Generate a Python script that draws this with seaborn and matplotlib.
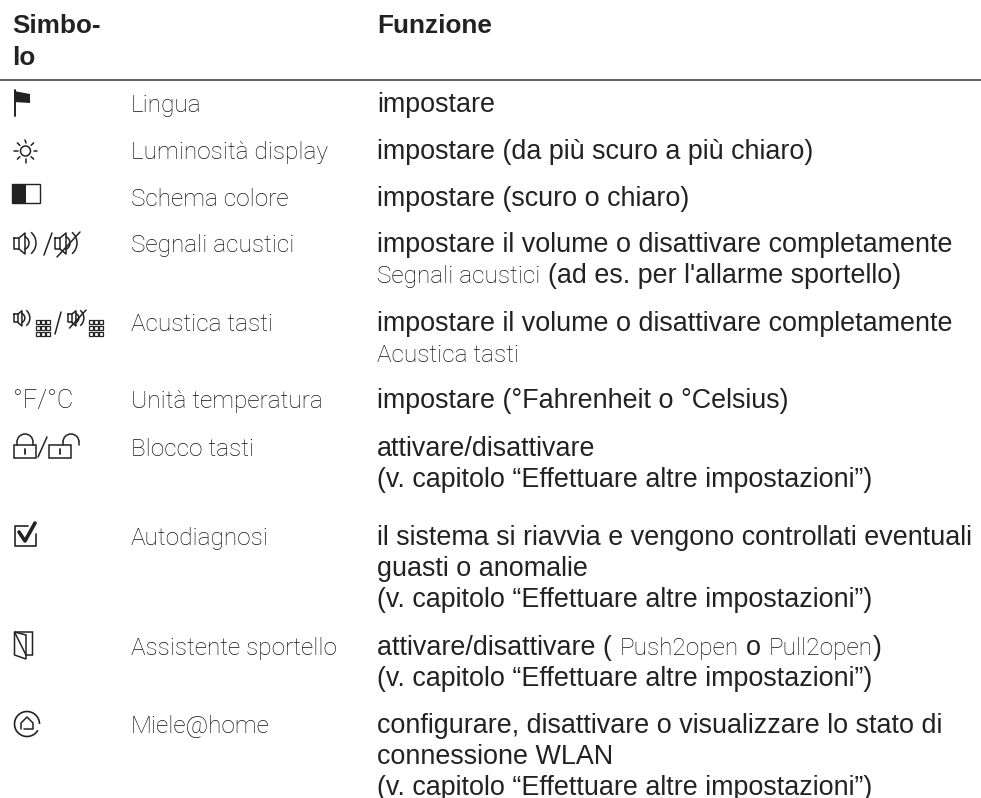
import numpy as np
import seaborn as sns
import matplotlib
matplotlib.use("Agg")
import matplotlib.pyplot as plt
from matplotlib.patches import Arc, Circle, Polygon, Rectangle

# table content
header_symbol = ["Simbo-", "lo"]
header_function = "Funzione"
names = ["Lingua", "Luminosità display", "Schema colore", "Segnali acustici",
         "Acustica tasti", "Unità temperatura", "Blocco tasti", "Autodiagnosi",
         "Assistente sportello", "Miele@home"]
# each line is a list of (text, is_menu_text) parts
functions = [
    [[("impostare", 0)]],
    [[("impostare (da più scuro a più chiaro)", 0)]],
    [[("impostare (scuro o chiaro)", 0)]],
    [[("impostare il volume o disattivare completamente", 0)],
     [("Segnali acustici", 1), ("(ad es. per l'allarme sportello)", 0)]],
    [[("impostare il volume o disattivare completamente", 0)],
     [("Acustica tasti", 1)]],
    [[("impostare (°Fahrenheit o °Celsius)", 0)]],
    [[("attivare/disattivare", 0)],
     [("(v. capitolo “Effettuare altre impostazioni”)", 0)]],
    [[("il sistema si riavvia e vengono controllati eventuali", 0)],
     [("guasti o anomalie", 0)],
     [("(v. capitolo “Effettuare altre impostazioni”)", 0)]],
    [[("attivare/disattivare (", 0), ("Push2open", 1), ("o", 0), ("Pull2open", 1), (")", 0)],
     [("(v. capitolo “Effettuare altre impostazioni”)", 0)]],
    [[("configurare, disattivare o visualizzare lo stato di", 0)],
     [("connessione WLAN", 0)],
     [("(v. capitolo “Effettuare altre impostazioni”)", 0)]],
]

# layout in pixels
row_y = [112, 159, 206, 252, 331, 408, 456, 545, 655, 733]
line_h = 31
name_x = 131
func_x = 377
ink = "#222222"
light = "#111111"

sns.set_theme(style="white")
plt.rcParams["font.family"] = ["Liberation Sans", "DejaVu Sans"]

fig = plt.figure(figsize=(9.81, 7.98), dpi=100)
ax = fig.add_axes([0, 0, 1, 1])

# rule under the header
sns.lineplot(x=[0, 981], y=[80, 80], color="#333333", linewidth=1.1, ax=ax)
ax.set_xlim(0, 981)
ax.set_ylim(798, 0)
ax.axis("off")
sns.despine(ax=ax, left=True, bottom=True)

body = dict(family="Liberation Sans", fontsize=19.4, color=ink, va="baseline")
menu = dict(family="Roboto", weight="light", fontsize=17.6, color=light, va="baseline")

for i, line in enumerate(header_symbol):
    ax.text(12, 33 + i * 32, line, family="Liberation Sans", weight="bold",
            fontsize=18.8, color=ink, va="baseline")
ax.text(func_x, 33, header_function, family="Liberation Sans", weight="bold",
        fontsize=18.8, color=ink, va="baseline")

fig.canvas.draw()
rend = fig.canvas.get_renderer()
for name, y, lines in zip(names, row_y, functions):
    ax.text(name_x, y, name, **menu)
    for j, parts in enumerate(lines):
        x = func_x
        for k, (text, is_menu) in enumerate(parts):
            t = ax.text(x, y + j * line_h, text, **(menu if is_menu else body))
            x = t.get_window_extent(rend).x1
            if k + 1 < len(parts) and parts[k + 1][0] != ")":
                x += 7.5

lw = 1.1


def ln(xs, ys, w=lw, c=ink):
    ax.plot(xs, ys, color=c, linewidth=w, solid_capstyle="round")


def speaker(x, y, muted=False, scale=1.0):
    s = scale
    ln([x, x + 5*s, x + 5*s, x, x], [y - 5*s, y - 5*s, y + 6*s, y + 6*s, y - 5*s])
    ln([x + 5*s, x + 11*s, x + 11*s, x + 5*s], [y - 5*s, y - 10*s, y + 11*s, y + 6*s])
    for r, a in ((7, 70), (14, 50)):
        ax.add_patch(Arc((x + 8*s, y), 2*r*s, 2*r*s, theta1=-a, theta2=a,
                         color=ink, linewidth=lw))
    if muted:
        ln([x + 2*s, x + 25*s], [y + 14*s, y - 11*s])


def keypad(x, y):
    for r in range(3):
        for c in range(3):
            ax.add_patch(Rectangle((x + c * 5.2, y + r * 5.8), 4, 4.4, fill=False,
                                   edgecolor=ink, linewidth=0.9))


def lock(x, y):
    ax.add_patch(Rectangle((x, y), 22, 13, fill=False, edgecolor=ink, linewidth=lw))
    ln([x + 11, x + 11], [y + 4, y + 9], w=1.3)


# flag
ln([14.5, 14.5], [90, 116], w=1.4)
ax.add_patch(Polygon([(14, 91), (30, 94), (30, 103), (14, 102)], color=ink, lw=0))

# sun
ax.add_patch(Circle((25.5, 151), 5, fill=False, edgecolor=ink, linewidth=lw))
for a in np.deg2rad(np.arange(0, 360, 45)):
    ln([25.5 + 8*np.cos(a), 25.5 + 11.5*np.cos(a)], [151 + 8*np.sin(a), 151 + 11.5*np.sin(a)])

# light / dark scheme
ax.add_patch(Rectangle((11.5, 184), 28, 19, fill=False, edgecolor=ink, linewidth=1.0))
ax.add_patch(Rectangle((11.5, 184), 14, 19, color=ink, lw=0))

# sound signals
speaker(14, 243)
ln([44, 52], [255, 233])
speaker(55, 243, muted=True)

# key sounds
speaker(14, 318, scale=0.72)
keypad(36, 320)
ln([55, 61], [334, 312])
speaker(68, 318, muted=True, scale=0.72)
keypad(89, 320)

# units
ax.text(13, 408, "°F/°C", family="Roboto", weight="light", fontsize=18.4, color=light,
        va="baseline")

# key lock
lock(14, 445)
ax.add_patch(Arc((25, 442), 16, 16, theta1=180, theta2=360, color=ink, linewidth=lw))
ln([17, 17], [442, 445])
ln([33, 33], [442, 445])
ln([38, 47], [457, 437])
lock(49, 445)
ax.add_patch(Arc((71, 442), 16, 16, theta1=180, theta2=360, color=ink, linewidth=lw))
ln([63, 63], [442, 445])
ln([79, 79], [442, 445])

# self test
ln([28, 14.5, 14.5, 35.5, 35.5], [526, 526, 546, 546, 534], w=1.2)
ln([19, 25, 35], [532, 541, 523], w=2.6)

# door
ax.add_patch(Polygon([(14.5, 632), (32.5, 632), (32.5, 655), (26, 655)], fill=False,
                     edgecolor=ink, linewidth=lw))
ax.add_patch(Polygon([(14.5, 632), (26, 635), (26, 659), (14.5, 655)], fill=False,
                     edgecolor=ink, linewidth=lw))

# home
ax.add_patch(Arc((27, 724), 25, 25, theta1=30, theta2=360, color=ink, linewidth=1.2))
ln([21, 21, 27, 33, 33, 24], [729, 723, 717, 723, 729, 729])

fig.savefig("out.png", dpi=100)
